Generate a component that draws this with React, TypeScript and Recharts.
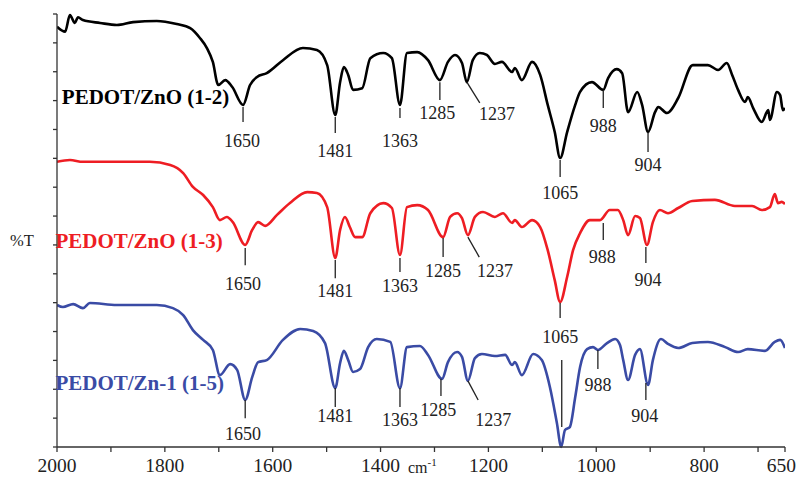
import React from 'react';
import { LineChart, Line, XAxis, YAxis, ReferenceLine, ReferenceDot } from 'recharts';

// PEDOT/ZnO (1-2)
const wn12 = [2000, 1985, 1976, 1967, 1961, 1952, 1920, 1889, 1859, 1815, 1778, 1753, 1735, 1722, 1711, 1701, 1688, 1675, 1655, 1642, 1629, 1611, 1581, 1544, 1518, 1499, 1484, 1475, 1468, 1460, 1451, 1434, 1419, 1395, 1379, 1364, 1351, 1332, 1312, 1290, 1275, 1262, 1249, 1240, 1229, 1216, 1203, 1188, 1175, 1156, 1151, 1138, 1119, 1104, 1090, 1077, 1067, 1054, 1039, 1030, 1008, 987, 978, 962, 952, 941, 924, 915, 904, 891, 885, 869, 848, 821, 793, 774, 758, 748, 737, 724, 719, 709, 693, 681, 678, 665, 659, 654, 650];
const t12 = [14.56, 14.39, 14.96, 14.69, 14.89, 14.79, 14.69, 14.62, 14.72, 14.76, 14.65, 14.51, 14.17, 13.82, 13.34, 12.54, 12.71, 12.47, 11.85, 12.54, 12.82, 12.95, 13.40, 13.82, 13.75, 13.23, 11.50, 12.64, 13.16, 12.89, 12.37, 12.43, 13.47, 13.65, 13.47, 11.85, 13.65, 13.68, 13.40, 12.71, 13.34, 13.58, 13.30, 12.64, 13.40, 13.65, 13.58, 13.27, 13.34, 12.99, 13.13, 12.71, 13.34, 12.89, 11.85, 10.91, 10.01, 10.91, 11.85, 12.30, 12.64, 12.37, 12.78, 13.09, 12.95, 11.60, 12.30, 11.85, 10.91, 11.60, 11.78, 11.57, 12.09, 13.23, 13.23, 13.06, 13.30, 12.89, 12.37, 11.95, 12.12, 11.74, 11.26, 11.67, 11.33, 12.30, 12.19, 11.67, 11.74];

// PEDOT/ZnO (1-3)
const wn13 = [2000, 1976, 1952, 1889, 1828, 1790, 1766, 1748, 1729, 1711, 1698, 1685, 1674, 1651, 1638, 1627, 1614, 1592, 1568, 1536, 1518, 1499, 1484, 1475, 1466, 1457, 1447, 1434, 1419, 1395, 1379, 1364, 1351, 1332, 1312, 1284, 1271, 1258, 1249, 1238, 1225, 1210, 1188, 1173, 1156, 1151, 1138, 1119, 1104, 1090, 1077, 1067, 1054, 1043, 1030, 1012, 993, 975, 960, 950, 941, 928, 919, 906, 895, 882, 867, 848, 822, 780, 743, 711, 693, 678, 669, 663, 656, 650];
const t13 = [9.88, 9.94, 9.88, 9.88, 9.88, 9.77, 9.49, 9.01, 8.73, 8.31, 7.86, 7.97, 7.79, 7.00, 7.52, 7.79, 7.66, 8.04, 8.45, 8.83, 8.80, 8.31, 6.55, 7.52, 7.97, 7.62, 7.27, 7.27, 8.10, 8.45, 8.28, 6.65, 8.31, 8.38, 8.21, 7.27, 7.97, 8.10, 7.93, 7.34, 7.97, 8.14, 7.97, 8.10, 7.76, 7.86, 7.62, 7.86, 7.62, 6.82, 5.78, 5.02, 5.89, 6.82, 7.41, 7.86, 7.86, 8.21, 8.21, 7.86, 7.34, 8.00, 7.93, 7.00, 7.79, 8.21, 8.10, 8.28, 8.52, 8.56, 8.35, 8.35, 8.21, 8.31, 8.76, 8.45, 8.49, 8.42];

// PEDOT/Zn-1 (1-5)
const wn15 = [2000, 1989, 1970, 1952, 1939, 1889, 1815, 1785, 1766, 1748, 1729, 1711, 1698, 1679, 1666, 1651, 1638, 1627, 1611, 1581, 1549, 1525, 1503, 1484, 1475, 1468, 1460, 1451, 1438, 1423, 1407, 1382, 1364, 1351, 1327, 1312, 1286, 1275, 1258, 1249, 1238, 1225, 1212, 1188, 1169, 1156, 1151, 1138, 1117, 1101, 1086, 1073, 1065, 1058, 1049, 1039, 1030, 1017, 1006, 997, 980, 965, 956, 950, 941, 928, 919, 904, 895, 880, 867, 848, 822, 793, 761, 737, 719, 687, 669, 659, 650];
const t15 = [4.92, 4.85, 4.95, 4.81, 4.99, 4.92, 4.92, 4.81, 4.57, 4.05, 3.71, 3.36, 2.49, 2.87, 2.67, 1.63, 2.42, 2.94, 3.01, 3.71, 4.09, 4.02, 3.60, 2.04, 2.91, 3.33, 3.01, 2.60, 2.70, 3.46, 3.74, 3.64, 2.04, 3.46, 3.50, 3.19, 2.36, 2.94, 3.29, 3.12, 2.29, 3.08, 3.22, 3.15, 3.19, 2.84, 2.94, 2.49, 3.22, 3.01, 2.08, 0.83, 0.00, 0.59, 0.69, 1.73, 2.77, 3.39, 3.46, 3.36, 3.60, 3.74, 3.53, 3.01, 2.32, 3.19, 3.39, 2.15, 3.01, 3.74, 3.57, 3.43, 3.60, 3.64, 3.46, 3.29, 3.39, 3.33, 3.64, 3.71, 3.43];

const seriesNames = ['PEDOT/ZnO (1-2)', 'PEDOT/ZnO (1-3)', 'PEDOT/Zn-1 (1-5)'];
const seriesColors = ['#000000', '#ee1d23', '#3a4ba5'];
const seriesLabelX = [1991, 2003, 2003];
const seriesLabelY = [11.88, 6.89, 1.97];

const xTicks = [2000, 1900, 1800, 1700, 1600, 1500, 1400, 1300, 1200, 1100, 1000, 900, 800, 700, 650];
const xTickLabels = [2000, 1800, 1600, 1400, 1200, 1000, 800, 650];
const yTicks = [0, 1, 2, 3, 4, 5, 6, 7, 8, 9, 10, 11, 12, 13, 14, 15];

// peak marks: [label, x1, y1, x2, y2, labelX, labelBaselineY]
type Mark = [string, number, number, number, number, number | null, number | null];
const marks12: Mark[] = [
  ['1650', 1655, 11.78, 1655, 11.26, 1657, 10.39],
  ['1481', 1484, 11.43, 1484, 10.88, 1484, 10.05],
  ['1363', 1364, 11.74, 1364, 11.40, 1364, 10.39],
  ['1285', 1290, 12.64, 1290, 12.02, 1295, 11.36],
  ['1237', 1240, 12.64, 1216, 11.92, 1184, 11.33],
  ['1065', 1067, 9.94, 1067, 9.35, 1067, 8.59],
  ['988', 987, 12.37, 987, 11.74, 987, 10.91],
  ['904', 904, 10.91, 904, 10.22, 904, 9.56],
];
const marks13: Mark[] = [
  ['1650', 1651, 6.89, 1651, 6.30, 1655, 5.44],
  ['1481', 1484, 6.48, 1484, 5.85, 1484, 5.20],
  ['1363', 1364, 6.55, 1364, 6.06, 1364, 5.37],
  ['1285', 1284, 7.24, 1284, 6.58, 1284, 5.89],
  ['1237', 1238, 7.27, 1217, 6.58, 1188, 5.89],
  ['1065', 1067, 4.99, 1067, 4.47, 1067, 3.60],
  ['988', 987, 7.76, 987, 7.17, 989, 6.37],
  ['904', 908, 6.93, 908, 6.37, 904, 5.58],
];
const marks15: Mark[] = [
  ['1650', 1651, 1.63, 1651, 1.00, 1655, 0.24],
  ['1481', 1484, 2.04, 1484, 1.39, 1484, 0.87],
  ['1363', 1364, 2.04, 1364, 1.39, 1364, 0.73],
  ['1285', 1288, 2.36, 1288, 1.77, 1293, 1.07],
  ['1237', 1238, 2.29, 1219, 1.63, 1191, 0.73],
  ['1065', 1064, 3.01, 1064, 0.69, null, null],
  ['988', 997, 3.36, 997, 2.70, 997, 1.94],
  ['904', 908, 2.22, 908, 1.63, 910, 0.87],
];

const toData = (wn: number[], t: number[]) => wn.map((w, i) => ({ wn: w, t: t[i] }));
const seriesData = [toData(wn12, t12), toData(wn13, t13), toData(wn15, t15)];
const allMarks = [marks12, marks13, marks15];

const SERIF = '"Liberation Serif", "Times New Roman", Times, serif';

const XTick = (props: any) => {
  const { x, y, payload } = props;
  const v = payload.value;
  if (!xTickLabels.includes(v)) return null;
  const isLast = v === xTickLabels[xTickLabels.length - 1];
  return (
    <text
      x={isLast ? x + 11 : x}
      y={y}
      dy="0.71em"
      textAnchor={isLast ? 'end' : 'middle'}
      fill="#222"
      fontSize={19.5}
      fontFamily={SERIF}
    >
      {String(v)}
    </text>
  );
};

export default function App() {
  return (
    <div style={{ position: 'absolute', left: 0, top: 0, width: 797, height: 479, background: '#fff' }}>
      <LineChart width={797} height={479} margin={{ top: 14, right: 12, bottom: 0, left: 0 }}>
        <XAxis
          dataKey="wn"
          type="number"
          domain={[650, 2000]}
          reversed
          allowDataOverflow
          ticks={xTicks}
          interval={0}
          height={32}
          tickSize={5}
          tickMargin={6}
          stroke="#333"
          strokeWidth={1.3}
          tick={<XTick />}
          label={{
            content: (p: any) => {
              const vb = p.viewBox || { x: 57, y: 447, width: 728 };
              return (
                <text x={vb.x + vb.width / 2 - 13} y={vb.y + 26} fontFamily={SERIF} fontSize={16} fill="#222">
                  cm<tspan dy={-7} fontSize={11}>-1</tspan>
                </text>
              );
            },
          }}
        />
        <YAxis
          type="number"
          domain={[0, 15]}
          ticks={yTicks}
          interval={0}
          width={57}
          tickSize={4}
          stroke="#333"
          strokeWidth={1.3}
          tickFormatter={() => ''}
          label={{
            content: (p: any) => {
              const vb = p.viewBox || { x: 0, y: 14, height: 433 };
              return (
                <text x={vb.x + 10} y={vb.y + vb.height / 2 + 15} fontFamily={SERIF} fontSize={16.5} fill="#222">
                  %T
                </text>
              );
            },
          }}
        />
        {seriesData.map((d, i) => (
          <Line
            key={seriesNames[i]}
            data={d}
            dataKey="t"
            type="monotone"
            stroke={seriesColors[i]}
            strokeWidth={2.6}
            strokeLinejoin="round"
            dot={false}
            isAnimationActive={false}
          />
        ))}
        {allMarks.map((ms, si) =>
          ms.map((m, mi) => (
            <ReferenceLine
              key={`l${si}-${mi}`}
              segment={[{ x: m[1], y: m[2] }, { x: m[3], y: m[4] }]}
              stroke="#222"
              strokeWidth={1.3}
              ifOverflow="visible"
            />
          ))
        )}
        {allMarks.map((ms, si) =>
          ms
            .filter((m) => m[5] !== null)
            .map((m, mi) => (
              <ReferenceDot
                key={`t${si}-${mi}`}
                x={m[5] as number}
                y={m[6] as number}
                r={0}
                ifOverflow="visible"
                shape={(p: any) => (
                  <text x={p.cx} y={p.cy} textAnchor="middle" fontFamily={SERIF} fontSize={18} fill="#222">
                    {m[0]}
                  </text>
                )}
              />
            ))
        )}
        {seriesNames.map((n, i) => (
          <ReferenceDot
            key={`s${i}`}
            x={seriesLabelX[i]}
            y={seriesLabelY[i]}
            r={0}
            ifOverflow="visible"
            shape={(p: any) => (
              <text x={p.cx} y={p.cy} textAnchor="start" fontFamily={SERIF} fontWeight="bold" fontSize={21} fill={seriesColors[i]}>
                {n}
              </text>
            )}
          />
        ))}
      </LineChart>
    </div>
  );
}
